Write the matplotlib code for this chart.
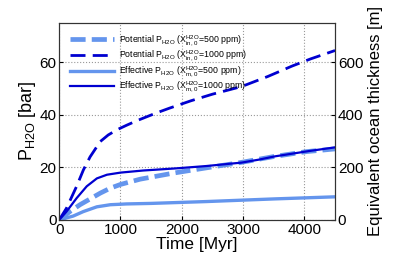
import matplotlib
matplotlib.use('Agg')
import matplotlib.pyplot as plt

plt.rcParams['font.family'] = ['Liberation Sans', 'DejaVu Sans']
plt.rcParams['mathtext.fontset'] = 'custom'
plt.rcParams['mathtext.rm'] = 'Liberation Sans'

# Time [Myr] and pressures [bar]
t_pot1000 = [0, 120, 285, 395, 505, 670, 800, 945, 1100, 1275, 1577, 1800, 2150, 2500, 2975,
             3400, 3800, 4100, 4500]
p_pot1000 = [0, 4.5, 12.8, 19.0, 24.0, 29.8, 32.3, 34.3, 36.0, 37.8, 40.6, 42.5, 45.3, 47.8, 50.7,
             54.5, 58.5, 61.2, 64.4]

t_eff1000 = [0, 120, 285, 450, 615, 780, 1000, 1370, 1900, 2400, 2975, 3250, 3525, 4076, 4500]
p_eff1000 = [0, 3.2, 8.3, 12.8, 15.8, 17.2, 18.0, 18.8, 19.6, 20.5, 21.8, 22.9, 24.2, 26.2, 27.6]

t_pot500 = [0, 175, 340, 505, 670, 835, 1000, 1320, 1860, 2400, 2950, 3500, 4040, 4500]
p_pot500 = [0, 3.2, 5.8, 8.0, 10.2, 12.1, 13.5, 15.5, 17.8, 19.8, 21.8, 24.1, 26.0, 27.0]

t_eff500 = [0, 230, 395, 615, 835, 1100, 1500, 2400, 3500, 4500]
p_eff500 = [0, 1.5, 3.2, 5.0, 5.8, 6.1, 6.3, 7.0, 8.0, 8.8]

labels = [r'Potential P$_{\rm H2O}$ (X$^{\rm H2O}_{\rm in,0}$=500 ppm)',
          r'Potential P$_{\rm H2O}$ (X$^{\rm H2O}_{\rm in,0}$=1000 ppm)',
          r'Effective P$_{\rm H2O}$ (X$^{\rm H2O}_{\rm m,0}$=500 ppm)',
          r'Effective P$_{\rm H2O}$ (X$^{\rm H2O}_{\rm m,0}$=1000 ppm)']

light = '#6495ED'
dark = '#0000D0'

fig = plt.figure(figsize=(3.97, 2.66), dpi=100)
ax = fig.add_axes([0.149, 0.173, 0.695, 0.742])

ax.plot(t_pot500, p_pot500, color=light, lw=3.4, ls=(0, (3.2, 1.3)), label=labels[0])
ax.plot(t_pot1000, p_pot1000, color=dark, lw=2.0, ls=(0, (5.4, 2.6)), label=labels[1])
ax.plot(t_eff500, p_eff500, color=light, lw=2.4, label=labels[2])
ax.plot(t_eff1000, p_eff1000, color=dark, lw=1.6, label=labels[3])

ax.set_xlim(0, 4500)
ax.set_ylim(0, 75)
ax.set_xticks([0, 1000, 2000, 3000, 4000])
ax.set_yticks([0, 20, 40, 60])
ax.grid(True, ls=':', color='#999999', lw=0.8)
ax.tick_params(direction='in', labelsize=11, length=3, pad=2)
ax.set_xlabel('Time [Myr]', fontsize=12.5, labelpad=0)
ax.set_ylabel(r'P$_{\rm H2O}$ [bar]', fontsize=13, labelpad=1)

ax2 = ax.twinx()
ax2.set_ylim(0, 750)
ax2.set_yticks([0, 200, 400, 600])
ax2.tick_params(direction='in', labelsize=11, length=3, pad=2)
ax2.set_ylabel('Equivalent ocean thickness [m]', fontsize=12, labelpad=3)

for a in (ax, ax2):
    for s in a.spines.values():
        s.set_color('#333333')

ax.legend(loc='upper left', frameon=False, fontsize=6.3, handlelength=5.0,
          handletextpad=0.6, labelspacing=0.15, bbox_to_anchor=(0.01, 0.985))

fig.savefig('out.png', dpi=100)
